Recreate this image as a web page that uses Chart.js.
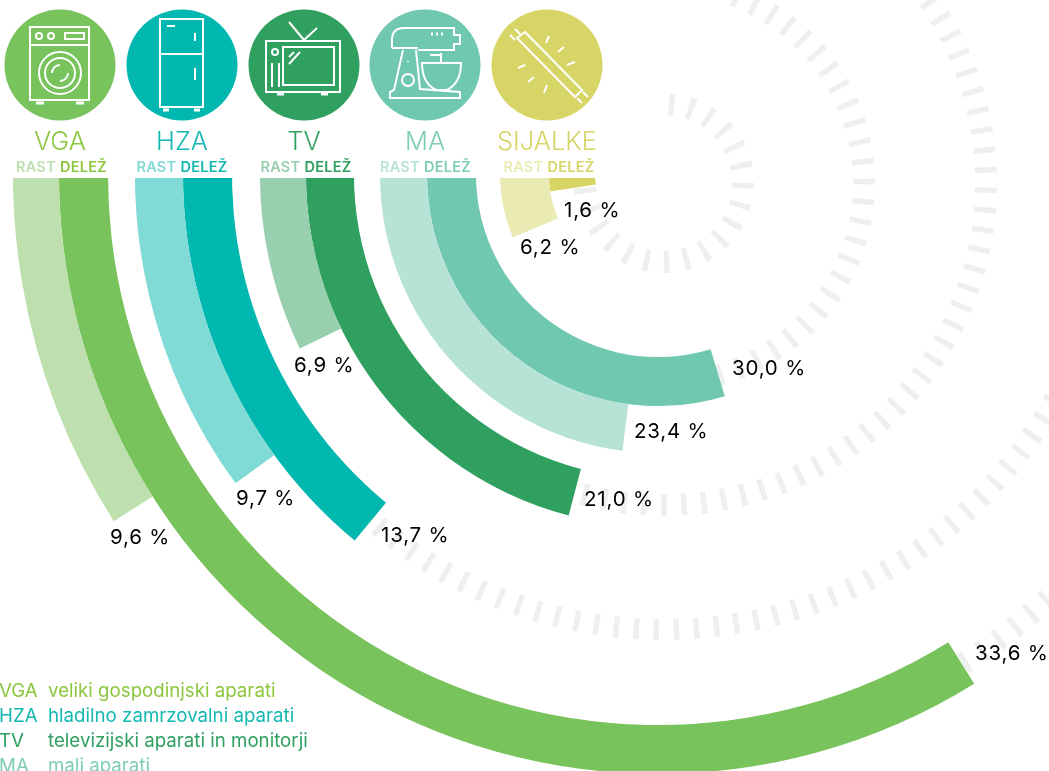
<!DOCTYPE html>
<html>
<head>
<meta charset="utf-8">
<script src="https://cdn.jsdelivr.net/npm/chart.js@4"></script>
<style>
html, body { margin: 0; padding: 0; background: #fff; }
#page { position: relative; width: 1049px; height: 771px; overflow: hidden; font-family: Inter, sans-serif; }
canvas { position: absolute; }
#icons { position: absolute; left: 0; top: 0; }
#page div.t { position: absolute; white-space: nowrap; line-height: 1; }
.val { font-size: 20.5px; color: #000; letter-spacing: 0.8px; }
.head { font-size: 25.5px; font-weight: 300; transform: translateX(-50%); }
.sub { font-size: 14.5px; font-weight: 600; transform: translateX(-50%); letter-spacing: 0.3px; }
.leg { font-size: 18.7px; }
</style>
</head>
<body>
<div id="page">
<canvas id="ticks"></canvas>
<canvas id="bars"></canvas>
<svg id="icons" width="1049" height="130" fill="none" stroke="#fff" stroke-width="2"></svg>
</div>
<script>
const categories = ['VGA', 'HZA', 'TV', 'MA', 'SIJALKE'];
const legendNames = ['veliki gospodinjski aparati', 'hladilno zamrzovalni aparati', 'televizijski aparati in monitorji', 'mali aparati'];
const rast = [9.6, 9.7, 6.9, 23.4, 6.2];
const delez = [33.6, 13.7, 21.0, 30.0, 1.6];

const delezColors = ['#78c35c', '#00b8b0', '#2fa060', '#70c8b0', '#d6d566'];
const rastColors = ['#bee0ae', '#80dad6', '#97cfaf', '#b7e3d7', '#eaebb2'];
const textColors = ['#8cc63f', '#14b8b0', '#2fa060', '#7ecdb5', '#d6d566'];
const circleX = [60, 182, 304, 425, 547];
const subX = [61.5, 182, 306, 425.5, 549];

// radii in px: rast outer, delez outer, delez inner
const barCx = 658, barCy = 175, barR = 645, barTop = 178;
const barRings = [[645, 599, 550], [523, 475, 426], [398, 352, 304], [278, 231, 182], [158, 109, 63]];
// the picture's arcs are a degree or two off their value, degrees clockwise
const rastTurn = [2.1, -1.2, -1, 1.6, -1];
const delezTurn = [-0.9, -1, 0.3, 1.2, -3];
const lead = 3; // colour carried on past the start, cut off by the clip at barTop

const page = document.getElementById('page');

function addText(cls, text, x, y, color) {
    const d = document.createElement('div');
    d.className = 't ' + cls;
    d.textContent = text;
    d.style.left = x + 'px';
    d.style.top = y + 'px';
    if (color) d.style.color = color;
    page.appendChild(d);
    return d;
}

const none = 'rgba(0,0,0,0)';
const barDatasets = [];
barRings.forEach((r, i) => {
    barDatasets.push({
        data: [100 - rast[i] - lead, rast[i] + lead],
        backgroundColor: [none, rastColors[i]],
        weight: r[0] - r[1],
        rotation: 270 + rastTurn[i] + lead * 3.6
    });
    barDatasets.push({
        data: [100 - delez[i] - lead, delez[i] + lead],
        backgroundColor: [none, delezColors[i]],
        weight: r[1] - r[2],
        rotation: 270 + delezTurn[i] + lead * 3.6
    });
    if (i < barRings.length - 1) {
        barDatasets.push({
            data: [100],
            backgroundColor: [none],
            weight: r[2] - barRings[i + 1][0],
            rotation: 270
        });
    }
});

const barCanvas = document.getElementById('bars');
barCanvas.width = barCanvas.height = barR * 2;
barCanvas.style.left = (barCx - barR) + 'px';
barCanvas.style.top = (barCy - barR) + 'px';
barCanvas.style.clipPath = 'inset(' + (barTop - barCy + barR) + 'px 0 0 0)';

new Chart(barCanvas, {
    type: 'doughnut',
    data: { datasets: barDatasets },
    options: {
        responsive: false,
        animation: false,
        cutout: barRings[4][2],
        borderWidth: 0,
        events: [],
        plugins: { legend: { display: false }, tooltip: { enabled: false } }
    }
});

// grey tick rings in the background: [first angle, pitch, tick count, inner r, outer r]
const tickCx = 664, tickCy = 183, tickR = 577;
const tickRings = [
    [135.4, 2.08, 8, 555, 577],
    [119.3, 2.57, 41, 436, 457],
    [52.2, 3.55, 41, 311, 333],
    [21.2, 5.7, 26, 189, 211],
    [5.4, 14.4, 19, 68, 90]
];
const tickPx = 5.5;

const tickDatasets = [];
tickRings.forEach((t, i) => {
    const midR = (t[3] + t[4]) / 2;
    const w = tickPx / midR * 180 / Math.PI;
    const data = [t[0] - w / 2];
    const colors = [none];
    for (let k = 0; k < t[2]; k++) {
        data.push(w);
        colors.push('#eeefef');
        data.push(k < t[2] - 1 ? t[1] - w : 360 - t[0] - (t[2] - 1) * t[1] - w / 2);
        colors.push(none);
    }
    tickDatasets.push({ data: data, backgroundColor: colors, weight: t[4] - t[3] });
    if (i < tickRings.length - 1) {
        tickDatasets.push({ data: [360], backgroundColor: [none], weight: t[3] - tickRings[i + 1][4] });
    }
});

const tickCanvas = document.getElementById('ticks');
tickCanvas.width = tickCanvas.height = tickR * 2;
tickCanvas.style.left = (tickCx - tickR) + 'px';
tickCanvas.style.top = (tickCy - tickR) + 'px';

new Chart(tickCanvas, {
    type: 'doughnut',
    data: { datasets: tickDatasets },
    options: {
        responsive: false,
        animation: false,
        cutout: 68,
        borderWidth: 0,
        events: [],
        plugins: { legend: { display: false }, tooltip: { enabled: false } }
    }
});

// headers above the bars
categories.forEach((c, i) => {
    addText('head', c, circleX[i], 128, textColors[i]);
    const sub = addText('sub', '', subX[i], 160);
    const a = document.createElement('span');
    a.textContent = 'RAST ';
    a.style.color = rastColors[i];
    const b = document.createElement('span');
    b.textContent = 'DELEŽ';
    b.style.color = textColors[i];
    sub.appendChild(a);
    sub.appendChild(b);
});

// value labels
const fmt = v => v.toFixed(1).replace('.', ',') + ' %';
const rastLabelPos = [[110, 527], [236, 488], [294, 355], [634, 421], [520, 237]];
const delezLabelPos = [[975, 643], [381, 525], [584, 489], [732, 358], [564, 200]];
rast.forEach((v, i) => addText('val', fmt(v), rastLabelPos[i][0], rastLabelPos[i][1]));
delez.forEach((v, i) => addText('val', fmt(v), delezLabelPos[i][0], delezLabelPos[i][1]));

// legend, last row runs off the page like in the picture
legendNames.forEach((n, i) => {
    const y = 682 + i * 25;
    addText('leg', categories[i], -1, y, textColors[i]);
    addText('leg', n, 48, y, textColors[i]);
});

// icons
let icons = '';
categories.forEach((c, i) => {
    icons += `<circle cx="${circleX[i]}" cy="65" r="55.5" fill="${delezColors[i]}" stroke="none"/>`;
});
// washer
icons += '<rect x="30" y="27" width="59" height="73"/><path d="M30 45H89"/><circle cx="39" cy="36" r="3"/><circle cx="51" cy="36" r="3"/><rect x="65" y="33" width="19" height="6"/><circle cx="60" cy="73" r="21"/><circle cx="60" cy="73" r="15"/><path d="M52 73a8 8 0 0 1 8-8M68 73a8 8 0 0 1-8 8"/><path d="M36 103h8M76 103h8" stroke-width="3"/>';
// fridge
icons += '<rect x="160" y="19" width="43" height="88"/><path d="M160 54H203M167 26h8M195 33v8M195 68v12"/><path d="M163 110h6M194 110h6" stroke-width="3"/>';
// tv
icons += '<rect x="266" y="41" width="74" height="51"/><rect x="283" y="47" width="51" height="38"/><path d="M289 22l15 18M317 28l-13 12M272 63v24M279 63v24M289 64l11-12M289 57l5-5"/><circle cx="275" cy="52" r="3"/><path d="M277 94h7M321 94h7" stroke-width="3"/>';
// mixer
icons += '<path d="M392 48V40q0-12 12-12h50v7h6v9h-6v6h-36 M392 48h26"/><path d="M431 34h2M436 34h2M441 34h2" stroke-width="3"/><path d="M403 50l-9 40-4 2v6h70v-6l-40-3-4-39"/><circle cx="408" cy="80" r="6"/><path d="M408 61v1"/><path d="M422 63h39q0 20-14 27h-11q-14-7-14-27zM441 62v-9M430 55h10"/>';
// tube
icons += '<path d="M525 32L582 90L575 97L517 38Z"/><path d="M515 29l5 5M510 35l5 5M583 92l5 5M577 98l5 5"/><path d="M549 36l-3 7M564 47l-6 5M575 62l-8 3M525 65l-7 3M534 77l-6 5M547 85l-3 8"/>';
document.getElementById('icons').innerHTML = icons;
</script>
</body>
</html>
